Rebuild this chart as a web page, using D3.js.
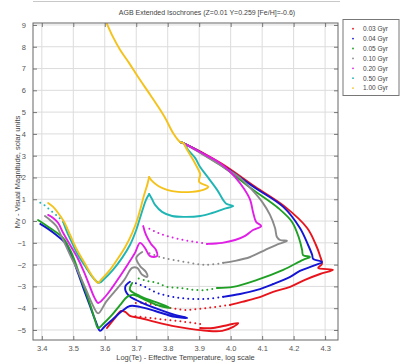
<!DOCTYPE html>
<html>
<head>
<meta charset="utf-8">
<script src="https://cdn.jsdelivr.net/npm/d3@7/dist/d3.min.js"></script>
<style>
  body { margin: 0; background: #fff; }
  svg { display: block; font-family: "Liberation Sans", Arial, sans-serif; }
</style>
</head>
<body>
<svg id="chart" width="402" height="363"></svg>
<script>
// ---- data: [logTe, Mv] ----
const ages = ['0.03 Gyr', '0.04 Gyr', '0.05 Gyr', '0.10 Gyr', '0.20 Gyr', '0.50 Gyr', '1.00 Gyr'];
const xTicks = [3.4, 3.5, 3.6, 3.7, 3.8, 3.9, 4.0, 4.1, 4.2, 4.3];
const yTicks = [-5, -4, -3, -2, -1, 0, 1, 2, 3, 4, 5, 6, 7, 8, 9];

// lower main sequence, shared by every age (only the top curve shows)
const lowerMS = [[3.607, 9.05], [3.626, 8.45], [3.649, 7.85], [3.677, 7.26], [3.706, 6.61], [3.738, 5.93],
  [3.766, 5.33], [3.792, 4.73], [3.817, 4.04], [3.839, 3.63]];

// 0.03 Gyr
const ms003 = [[3.839, 3.63], [3.849, 3.58], [3.967, 2.67], [4.078, 1.57], [4.173, 0.65], [4.243, -0.32], [4.271, -1.10],
  [4.284, -1.60], [4.290, -1.97], [4.278, -2.15], [4.325, -2.24], [4.284, -2.43], [4.236, -2.70],
  [4.189, -3.02], [4.135, -3.25], [4.084, -3.53], [4.036, -3.71], [3.998, -3.85]];
const gap003 = [[3.998, -3.85], [3.951, -3.94], [3.903, -4.03], [3.855, -4.08], [3.808, -3.99],
  [3.760, -3.85], [3.722, -3.76], [3.690, -3.76]];
const he003 = [[3.607, -4.91], [3.630, -4.49], [3.652, -4.13], [3.665, -4.17], [3.680, -4.35], [3.712, -4.45],
  [3.760, -4.63], [3.814, -4.81], [3.871, -4.95], [3.925, -5.04], [3.973, -5.04], [4.008, -4.86],
  [4.024, -4.68], [3.992, -4.77], [3.944, -4.91], [3.903, -4.91]];
const ret003 = [[3.903, -4.72], [3.855, -4.63], [3.801, -4.54], [3.744, -4.45], [3.690, -4.35]];

// 0.04 Gyr
const ms004 = [[3.839, 3.63], [3.849, 3.58], [3.967, 2.62], [4.078, 1.52], [4.167, 0.65], [4.220, -0.32], [4.246, -1.10],
  [4.259, -1.56], [4.262, -1.74], [4.290, -1.88], [4.262, -2.06], [4.220, -2.29], [4.189, -2.56],
  [4.135, -2.89], [4.084, -3.16], [4.030, -3.35], [3.976, -3.48]];
const gap004 = [[3.976, -3.48], [3.925, -3.57], [3.871, -3.57], [3.817, -3.48], [3.766, -3.30],
  [3.728, -3.02], [3.696, -2.84]];
const he004 = [[3.680, -2.79], [3.665, -3.02], [3.674, -3.39], [3.712, -3.71], [3.776, -4.08], [3.823, -4.31],
  [3.862, -4.45], [3.823, -4.40], [3.760, -4.13], [3.712, -3.94], [3.680, -3.90], [3.655, -4.13],
  [3.623, -4.54], [3.598, -4.86], [3.585, -5.04], [3.572, -4.63], [3.553, -3.90], [3.534, -3.16],
  [3.516, -2.43], [3.496, -1.65], [3.477, -1.05], [3.446, -0.64], [3.420, -0.36], [3.395, -0.13]];

// 0.05 Gyr
const ms005 = [[3.839, 3.63], [3.849, 3.58], [3.967, 2.57], [4.068, 1.47], [4.151, 0.60], [4.195, -0.04], [4.217, -0.78],
  [4.227, -1.33], [4.230, -1.56], [4.252, -1.65], [4.230, -1.78], [4.167, -2.24], [4.084, -2.70],
  [4.008, -3.02], [3.957, -3.07]];
const gap005 = [[3.957, -3.07], [3.925, -3.16], [3.881, -3.16], [3.839, -3.07], [3.798, -3.02],
  [3.766, -2.84], [3.735, -2.75], [3.703, -2.61]];
const he005 = [[3.687, -2.84], [3.680, -3.16], [3.712, -3.44], [3.760, -3.71], [3.808, -3.99], [3.776, -3.90],
  [3.728, -3.62], [3.690, -3.39], [3.671, -3.48], [3.649, -3.85], [3.623, -4.31], [3.598, -4.68],
  [3.579, -4.91], [3.569, -4.54], [3.557, -3.99], [3.541, -3.30], [3.522, -2.56], [3.506, -1.88],
  [3.490, -1.33], [3.468, -0.78], [3.426, -0.32], [3.388, 0.05]];

// 0.10 Gyr
const ms010 = [[3.839, 3.63], [3.849, 3.58], [3.903, 3.13], [3.967, 2.57], [4.030, 1.98], [4.068, 1.43], [4.100, 0.88],
  [4.125, 0.28], [4.141, -0.32], [4.147, -0.73], [4.157, -0.87], [4.179, -0.91], [4.144, -1.10],
  [4.109, -1.33], [4.062, -1.65], [4.014, -1.83], [3.976, -1.92]];
const gap010 = [[3.976, -1.92], [3.925, -2.01], [3.871, -1.92], [3.817, -1.78], [3.776, -1.65], [3.738, -1.46]];
const he010 = [[3.719, -1.42], [3.700, -1.69], [3.712, -2.06], [3.731, -2.34], [3.735, -2.56], [3.719, -2.47],
  [3.703, -2.15], [3.687, -2.15], [3.662, -2.70], [3.633, -3.21], [3.604, -3.71], [3.579, -4.24],
  [3.560, -3.80], [3.541, -3.16], [3.516, -2.34], [3.490, -1.56], [3.465, -0.78], [3.446, -0.23],
  [3.426, 0.05], [3.410, 0.23]];

// 0.20 Gyr
const ms020 = [[3.839, 3.63], [3.849, 3.58], [3.903, 3.17], [3.951, 2.80], [3.982, 2.48], [4.014, 2.02], [4.043, 1.47],
  [4.062, 0.97], [4.071, 0.42], [4.081, -0.04], [4.097, -0.23], [4.071, -0.41], [4.046, -0.68],
  [4.014, -0.87], [3.973, -1.00], [3.925, -1.05]];
const gap020 = [[3.925, -1.05], [3.887, -0.96], [3.849, -0.87], [3.808, -0.73], [3.770, -0.55], [3.738, -0.32]];
const he020 = [[3.722, -0.23], [3.731, -0.64], [3.747, -1.05], [3.763, -1.33], [3.766, -1.61], [3.744, -1.61],
  [3.728, -1.24], [3.712, -1.00], [3.696, -1.46], [3.674, -1.97], [3.649, -2.52], [3.623, -3.07],
  [3.598, -3.53], [3.579, -3.76], [3.566, -3.48], [3.553, -3.02], [3.534, -2.33], [3.512, -1.65],
  [3.490, -1.10], [3.468, -0.55], [3.452, -0.09], [3.436, 0.14], [3.420, 0.28]];

// 0.50 Gyr
const ms050 = [[3.839, 3.63], [3.849, 3.58], [3.865, 3.26], [3.887, 2.90], [3.903, 2.48], [3.929, 1.98], [3.957, 1.43],
  [3.976, 0.97], [3.986, 0.79], [4.008, 0.69], [3.979, 0.56], [3.941, 0.37], [3.903, 0.23], [3.855, 0.19],
  [3.814, 0.23], [3.782, 0.42], [3.760, 0.74], [3.750, 1.01], [3.741, 1.24]];
const he050 = [[3.741, 1.24], [3.731, 0.97], [3.722, 0.60], [3.712, 0.14], [3.700, -0.41], [3.680, -1.10],
  [3.655, -1.69], [3.626, -2.24], [3.598, -2.66], [3.582, -2.84], [3.563, -2.61], [3.541, -2.15],
  [3.515, -1.56], [3.496, -1.00], [3.480, -0.50], [3.468, -0.04]];
const tail050 = [[3.468, -0.04], [3.449, 0.23], [3.426, 0.51], [3.407, 0.74], [3.385, 0.92]];

// 1.00 Gyr
const ms100 = [[3.849, 3.58], [3.862, 3.26], [3.881, 2.80], [3.893, 2.48], [3.903, 2.16], [3.900, 1.80],
  [3.929, 1.57], [3.913, 1.43], [3.877, 1.34], [3.833, 1.34], [3.798, 1.43], [3.770, 1.61],
  [3.750, 1.84], [3.741, 2.02]];
const he100 = [[3.741, 2.02], [3.735, 1.66], [3.725, 1.20], [3.715, 0.65], [3.703, 0.05], [3.687, -0.55],
  [3.665, -1.19], [3.639, -1.78], [3.614, -2.29], [3.588, -2.70], [3.579, -2.84], [3.560, -2.52],
  [3.534, -1.88], [3.512, -1.33], [3.490, -0.64], [3.471, -0.04], [3.452, 0.37], [3.436, 0.65], [3.420, 0.83]];

const colors = ['#e8141c', '#1414d4', '#1fa024', '#8a8a8a', '#e01ee6', '#1fb5b5', '#f4c21a'];

// each track: points + whether the model points are sparse (shows as dots)
const isochrones = [
  [[ms003, false], [gap003, true], [he003, false], [ret003, true]],
  [[ms004, false], [gap004, true], [he004, false]],
  [[ms005, false], [gap005, true], [he005, false]],
  [[ms010, false], [gap010, true], [he010, false]],
  [[ms020, false], [gap020, true], [he020, false]],
  [[ms050, false], [he050, false], [tail050, true]],
  [[lowerMS.concat(ms100), false], [he100, false]]
];

// ---- layout ----
const plot = { left: 33, right: 338, top: 23, bottom: 340 };
const svg = d3.select('#chart');

const x = d3.scaleLinear().domain([3.372, 4.341]).range([plot.left, plot.right]);
const y = d3.scaleLinear().domain([-5.46, 9.09]).range([plot.bottom, plot.top]);

// top separator
svg.append('line')
  .attr('x1', 33).attr('x2', 340).attr('y1', 1.5).attr('y2', 1.5)
  .attr('stroke', '#c8c8c8').attr('stroke-width', 1);

// title
svg.append('text')
  .attr('x', 207).attr('y', 15)
  .attr('text-anchor', 'middle')
  .style('font-size', '7px')
  .style('fill', '#444')
  .text('AGB Extended Isochrones (Z=0.01 Y=0.259 [Fe/H]=-0.6)');

// grid
const grid = svg.append('g');
grid.selectAll('.gx').data(xTicks).enter().append('line')
  .attr('x1', d => x(d)).attr('x2', d => x(d))
  .attr('y1', plot.top).attr('y2', plot.bottom)
  .attr('stroke', '#dcdcdc').attr('stroke-width', 1);
grid.selectAll('.gy').data(yTicks).enter().append('line')
  .attr('x1', plot.left).attr('x2', plot.right)
  .attr('y1', d => y(d)).attr('y2', d => y(d))
  .attr('stroke', '#dcdcdc').attr('stroke-width', 1);

// axes with inward ticks
const tickColor = '#777';
svg.append('g')
  .attr('transform', `translate(0,${plot.bottom})`)
  .call(d3.axisBottom(x).tickValues(xTicks).tickFormat(d3.format('.1f')).tickSizeInner(-4).tickSizeOuter(0).tickPadding(6))
  .call(g => g.select('.domain').remove())
  .call(g => g.selectAll('line').attr('stroke', tickColor))
  .call(g => g.selectAll('text').style('font-size', '7.5px').style('fill', '#555').style('font-family', '"Liberation Sans", Arial, sans-serif'));
svg.append('g')
  .attr('transform', `translate(0,${plot.top})`)
  .call(d3.axisTop(x).tickValues(xTicks).tickFormat('').tickSizeInner(-4).tickSizeOuter(0))
  .call(g => g.select('.domain').remove())
  .call(g => g.selectAll('line').attr('stroke', tickColor));
svg.append('g')
  .attr('transform', `translate(${plot.left},0)`)
  .call(d3.axisLeft(y).tickValues(yTicks).tickFormat(d3.format('d')).tickSizeInner(-4).tickSizeOuter(0).tickPadding(7))
  .call(g => g.select('.domain').remove())
  .call(g => g.selectAll('line').attr('stroke', tickColor))
  .call(g => g.selectAll('text').style('font-size', '7.5px').style('fill', '#555').style('font-family', '"Liberation Sans", Arial, sans-serif'));
svg.append('g')
  .attr('transform', `translate(${plot.right},0)`)
  .call(d3.axisRight(y).tickValues(yTicks).tickFormat('').tickSizeInner(-4).tickSizeOuter(0))
  .call(g => g.select('.domain').remove())
  .call(g => g.selectAll('line').attr('stroke', tickColor));

// clip for the curves
svg.append('defs').append('clipPath').attr('id', 'plotClip')
  .append('rect')
  .attr('x', plot.left).attr('y', plot.top)
  .attr('width', plot.right - plot.left).attr('height', plot.bottom - plot.top);

const line = d3.line()
  .x(d => x(d[0]))
  .y(d => y(d[1]))
  .curve(d3.curveCatmullRom.alpha(0.5));

const curves = svg.append('g').attr('clip-path', 'url(#plotClip)');
isochrones.forEach((tracks, i) => {
  tracks.forEach(([pts, sparse]) => {
    curves.append('path')
      .datum(pts)
      .attr('fill', 'none')
      .attr('stroke', colors[i])
      .attr('stroke-width', sparse ? 2 : 1.9)
      .attr('stroke-linecap', 'round')
      .attr('stroke-linejoin', 'round')
      .attr('stroke-dasharray', sparse ? '0,5' : null)
      .attr('d', line);
  });
});

// frame
svg.append('rect')
  .attr('x', plot.left).attr('y', plot.top)
  .attr('width', plot.right - plot.left).attr('height', plot.bottom - plot.top)
  .attr('fill', 'none').attr('stroke', '#666').attr('stroke-width', 1);

// axis titles
svg.append('text')
  .attr('x', (plot.left + plot.right) / 2).attr('y', 360)
  .attr('text-anchor', 'middle')
  .style('font-size', '7.5px').style('fill', '#444')
  .text('Log(Te) - Effective Temperature, log scale');
svg.append('text')
  .attr('transform', 'translate(20,172) rotate(-90)')
  .attr('text-anchor', 'middle')
  .style('font-size', '7.5px').style('fill', '#444')
  .text('Mv - Visual Magnitude, solar units');

// legend
const legend = svg.append('g');
legend.append('rect')
  .attr('x', 343).attr('y', 19.5).attr('width', 56).attr('height', 76)
  .attr('fill', '#fff').attr('stroke', '#777').attr('stroke-width', 1);
const items = legend.selectAll('.item').data(ages).enter().append('g')
  .attr('transform', (d, i) => `translate(0,${31 + i * 9.9})`);
items.append('circle')
  .attr('cx', 353).attr('cy', -2.3).attr('r', 0.9)
  .attr('fill', (d, i) => colors[i]);
items.append('text')
  .attr('x', 363).attr('y', 0)
  .style('font-size', '6.5px').style('fill', '#444')
  .text(d => d);
</script>
</body>
</html>
